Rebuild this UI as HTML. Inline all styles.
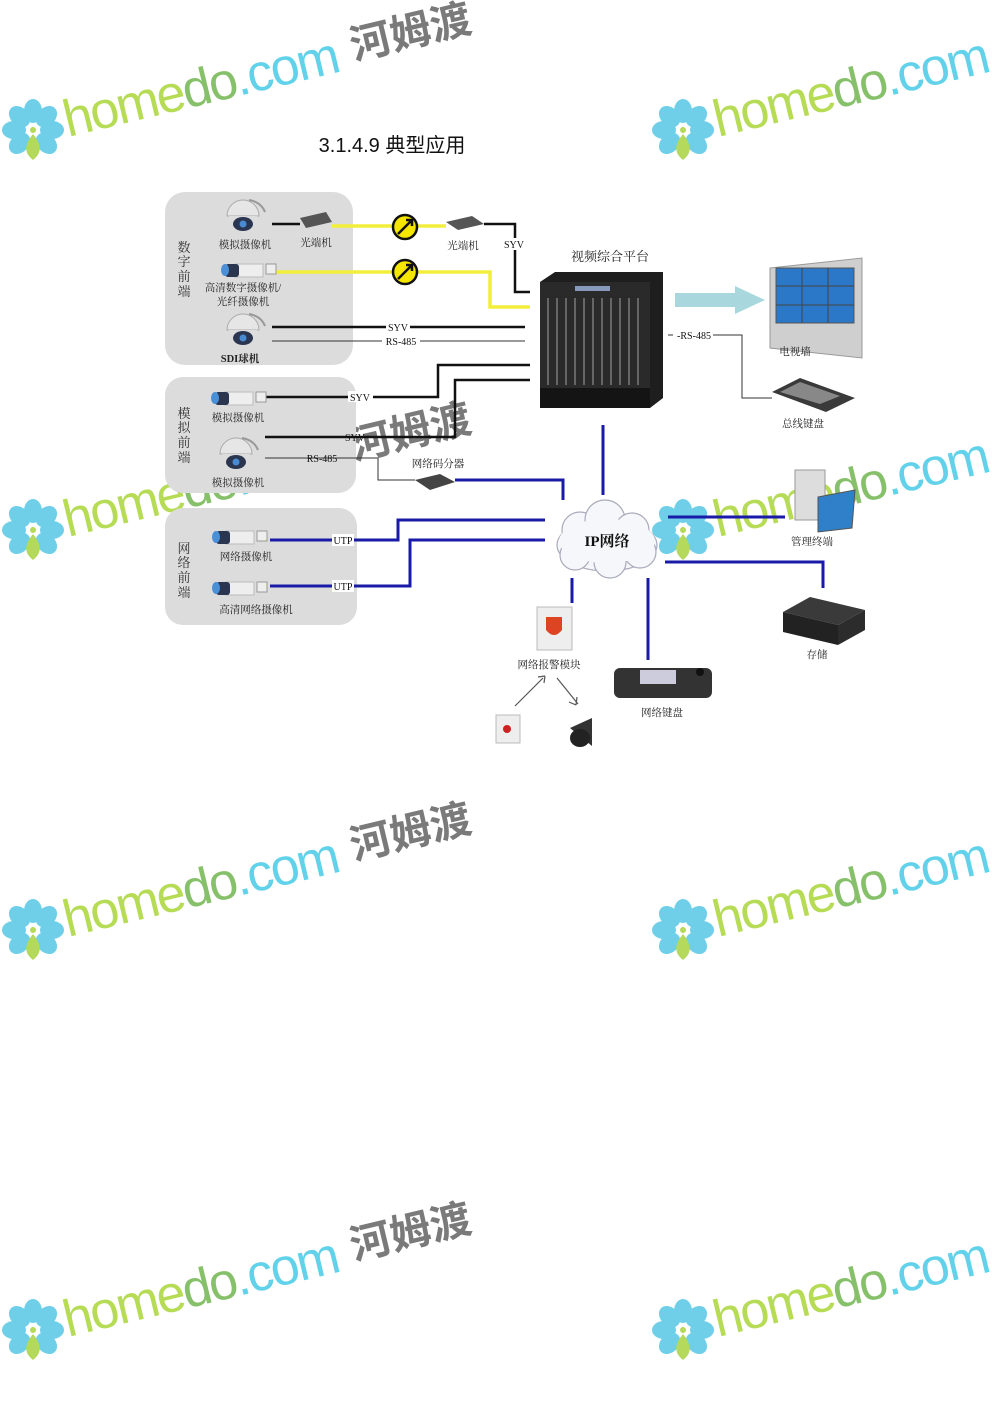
<!DOCTYPE html>
<html><head><meta charset="utf-8"><style>
html,body{margin:0;padding:0;background:#fff;}
body{width:992px;height:1403px;overflow:hidden;position:relative;}
svg{position:absolute;left:0;top:0;}
</style></head><body>
<svg width="992" height="1403" viewBox="0 0 992 1403" xmlns="http://www.w3.org/2000/svg">
<defs>
<g id="flower">
  <g fill="#6fcfe8">
    <ellipse cx="0" cy="-19" rx="9" ry="12"/>
    <ellipse cx="0" cy="-19" rx="9" ry="12" transform="rotate(45)"/>
    <ellipse cx="0" cy="-19" rx="9" ry="12" transform="rotate(90)"/>
    <ellipse cx="0" cy="-19" rx="9" ry="12" transform="rotate(135)"/>
    <ellipse cx="0" cy="-19" rx="9" ry="12" transform="rotate(-45)"/>
    <ellipse cx="0" cy="-19" rx="9" ry="12" transform="rotate(-90)"/>
    <ellipse cx="0" cy="-19" rx="9" ry="12" transform="rotate(-135)"/>
  </g>
  <path d="M0 4 C-8 14 -10 22 0 30 C10 22 8 14 0 4Z" fill="#b5d95a"/>
  <circle cx="0" cy="0" r="3" fill="#b5d95a"/>
</g>
<g id="wm">
  <use href="#flower" x="33" y="130"/>
  <g transform="translate(68,137) rotate(-13.5)">
    <text x="0" y="0" font-family="Liberation Sans, sans-serif" font-size="52" letter-spacing="-2"><tspan fill="#b6db54">home</tspan><tspan fill="#86c06a">do</tspan><tspan fill="#62d2ea">.com</tspan></text>
    <text x="296" y="-8" font-family="Liberation Sans, 'Noto Sans CJK SC', sans-serif" font-size="41" font-weight="bold" fill="#7a7a7a">河姆渡</text>
  </g>
</g>
<g id="dome">
  <path d="M-16 4 A16 16 0 0 1 16 4 Z" fill="#e6e6e6" stroke="#aaa"/>
  <rect x="-14" y="4" width="28" height="5" fill="#ddd"/>
  <ellipse cx="0" cy="12" rx="10" ry="7" fill="#2a3550"/>
  <circle cx="0" cy="12" r="3.5" fill="#4a8ad0"/>
  <path d="M6 -12 Q18 -10 22 0" stroke="#999" fill="none" stroke-width="2"/>
</g>
<g id="boxcam">
  <rect x="0" y="-6" width="28" height="13" fill="#eee" stroke="#bbb"/>
  <rect x="-10" y="-6" width="14" height="13" rx="3" fill="#2a3550"/>
  <ellipse cx="-10" cy="0" rx="4" ry="6" fill="#4a90d8"/>
  <rect x="31" y="-6" width="10" height="10" fill="#eee" stroke="#999"/>
</g>
</defs>

<!-- watermarks -->
<use href="#wm" x="0" y="0"/>
<use href="#wm" x="0" y="400"/>
<use href="#wm" x="0" y="800"/>
<use href="#wm" x="0" y="1200"/>
<use href="#wm" x="650" y="0"/>
<use href="#wm" x="650" y="400"/>
<use href="#wm" x="650" y="800"/>
<use href="#wm" x="650" y="1200"/>

<text x="392" y="152" text-anchor="middle" font-family="Liberation Sans, 'Noto Sans CJK SC', sans-serif" font-size="20" fill="#111">3.1.4.9 典型应用</text>

<!-- gray zones -->
<rect x="165" y="192" width="188" height="173" rx="20" fill="#dcdcdc"/>
<rect x="165" y="377" width="191" height="116" rx="18" fill="#dcdcdc"/>
<rect x="165" y="508" width="192" height="117" rx="18" fill="#dcdcdc"/>

<g font-family="Liberation Serif, 'Noto Serif CJK SC', serif" font-size="13" fill="#333">
<text x="184" y="252" text-anchor="middle">数</text><text x="184" y="266" text-anchor="middle">字</text><text x="184" y="281" text-anchor="middle">前</text><text x="184" y="296" text-anchor="middle">端</text>
<text x="184" y="418" text-anchor="middle">模</text><text x="184" y="432" text-anchor="middle">拟</text><text x="184" y="447" text-anchor="middle">前</text><text x="184" y="462" text-anchor="middle">端</text>
<text x="184" y="553" text-anchor="middle">网</text><text x="184" y="567" text-anchor="middle">络</text><text x="184" y="582" text-anchor="middle">前</text><text x="184" y="597" text-anchor="middle">端</text>
</g>

<g stroke="#f2ee3a" stroke-width="3.5" fill="none">
<path d="M332 226 H446"/>
<path d="M276 272 H490 V307 H530"/>
</g>
<g stroke="#111" stroke-width="2.5" fill="none">
<path d="M272 224 H300"/>
<path d="M484 224 H515 V292 H530"/>
<path d="M272 327 H525"/>
<path d="M265 397 H438 V365 H530"/>
<path d="M265 437 H455 V380 H530"/>
</g>
<g stroke="#333" stroke-width="1" fill="none">
<path d="M272 341 H525"/>
<path d="M265 458 H378 V480 H415"/>
<path d="M668 335 H742 V398 H772"/>
</g>
<g stroke="#1a1aa8" stroke-width="3" fill="none">
<path d="M455 480 H563 V500"/>
<path d="M270 540 H398 V520 H545"/>
<path d="M270 586 H410 V540 H545"/>
<path d="M603 425 V495"/>
<path d="M668 517 H785"/>
<path d="M665 562 H823 V588"/>
<path d="M572 578 V603"/>
<path d="M648 578 V660"/>
</g>

<g>
<circle cx="405" cy="227" r="12" fill="#f5e600" stroke="#111" stroke-width="2.5"/>
<path d="M398 234 L412 220 M406 220 H412 V226" stroke="#111" stroke-width="2.5" fill="none"/>
<circle cx="405" cy="272" r="12" fill="#f5e600" stroke="#111" stroke-width="2.5"/>
<path d="M398 279 L412 265 M406 265 H412 V271" stroke="#111" stroke-width="2.5" fill="none"/>
</g>

<use href="#dome" x="243" y="212"/>
<polygon points="300,218 326,212 332,222 306,228" fill="#555"/>
<polygon points="446,222 472,216 484,224 458,230" fill="#555"/>
<use href="#boxcam" x="235" y="270"/>
<use href="#dome" x="243" y="326"/>
<use href="#boxcam" x="225" y="398"/>
<use href="#dome" x="236" y="450"/>
<polygon points="415,480 440,474 455,482 430,490" fill="#444"/>
<use href="#boxcam" x="226" y="537"/>
<use href="#boxcam" x="226" y="588"/>

<!-- platform chassis -->
<polygon points="540,282 555,272 663,272 663,398 650,408 540,408" fill="#1e1e1e"/>
<rect x="540" y="282" width="110" height="126" fill="#2a2a2a"/>
<rect x="575" y="286" width="35" height="5" fill="#8899bb"/>
<g stroke="#666" stroke-width="2">
<path d="M548 298 V385 M557 298 V385 M566 298 V385 M575 298 V385 M584 298 V385 M593 298 V385 M602 298 V385 M611 298 V385 M620 298 V385 M629 298 V385 M638 298 V385"/>
</g>
<rect x="540" y="388" width="110" height="20" fill="#141414"/>

<polygon points="675,293 735,293 735,286 765,300 735,314 735,307 675,307" fill="#a8d8de"/>
<polygon points="770,268 862,258 862,358 770,348" fill="#cfcfcf" stroke="#999"/>
<rect x="776" y="268" width="78" height="55" fill="#2b78c8" stroke="#555"/>
<path d="M802 268 V323 M828 268 V323 M776 286 H854 M776 305 H854" stroke="#444"/>
<polygon points="772,392 800,378 855,398 826,412" fill="#3a3a3a"/>
<polygon points="780,392 800,382 840,396 820,404" fill="#888"/>

<g fill="#f5f7fa" stroke="#aab" stroke-width="1.2">
<ellipse cx="607" cy="545" rx="50" ry="26"/>
<circle cx="580" cy="530" r="18"/><circle cx="605" cy="520" r="20"/><circle cx="632" cy="530" r="17"/>
<circle cx="575" cy="555" r="15"/><circle cx="610" cy="562" r="16"/><circle cx="640" cy="552" r="16"/>
</g>
<ellipse cx="607" cy="541" rx="48" ry="22" fill="#f5f7fa"/>
<text x="607" y="546" text-anchor="middle" font-family="Liberation Serif, 'Noto Serif CJK SC', serif" font-size="15" font-weight="bold" fill="#111">IP网络</text>

<rect x="795" y="470" width="30" height="50" fill="#ddd" stroke="#999"/>
<polygon points="818,497 855,490 852,528 818,532" fill="#2f80c8" stroke="#555"/>
<polygon points="783,612 810,597 865,610 838,625" fill="#3a3a3a"/>
<polygon points="783,612 838,625 838,645 783,632" fill="#222"/>
<polygon points="838,625 865,610 865,630 838,645" fill="#2c2c2c"/>
<rect x="537" y="607" width="35" height="43" fill="#eee" stroke="#bbb"/>
<path d="M546 617 H562 V630 Q554 640 546 630 Z" fill="#d42"/>
<path d="M543 678 L515 706 M557 678 L578 704" stroke="#555" stroke-width="1.2"/>
<path d="M545 676 L538 677 M545 676 L544 683 M576 705 L577 697 M576 705 L569 702" stroke="#555" stroke-width="1.2"/>
<rect x="496" y="715" width="24" height="28" fill="#eee" stroke="#bbb"/>
<circle cx="507" cy="729" r="4" fill="#c22"/>
<path d="M570 728 L592 718 L592 746 Z" fill="#333"/>
<ellipse cx="580" cy="738" rx="10" ry="9" fill="#222"/>
<rect x="614" y="668" width="98" height="30" rx="6" fill="#333"/>
<rect x="640" y="670" width="36" height="14" fill="#ccd"/>
<circle cx="700" cy="672" r="4" fill="#111"/>

<g font-family="Liberation Serif, 'Noto Serif CJK SC', serif" font-size="10.5" fill="#222">
<text x="245" y="248" text-anchor="middle">模拟摄像机</text>
<text x="316" y="246" text-anchor="middle">光端机</text>
<text x="463" y="249" text-anchor="middle">光端机</text>
<text x="243" y="291" text-anchor="middle">高清数字摄像机/</text>
<text x="243" y="305" text-anchor="middle">光纤摄像机</text>
<text x="240" y="362" text-anchor="middle" font-weight="bold">SDI球机</text>
<text x="238" y="421" text-anchor="middle">模拟摄像机</text>
<text x="238" y="486" text-anchor="middle">模拟摄像机</text>
<text x="438" y="467" text-anchor="middle">网络码分器</text>
<text x="246" y="560" text-anchor="middle">网络摄像机</text>
<text x="256" y="613" text-anchor="middle">高清网络摄像机</text>
<text x="610" y="261" text-anchor="middle" font-size="13">视频综合平台</text>
<text x="795" y="355" text-anchor="middle">电视墙</text>
<text x="803" y="427" text-anchor="middle">总线键盘</text>
<text x="812" y="545" text-anchor="middle">管理终端</text>
<text x="817" y="658" text-anchor="middle">存储</text>
<text x="549" y="668" text-anchor="middle">网络报警模块</text>
<text x="662" y="716" text-anchor="middle">网络键盘</text>
</g>
<g font-family="Liberation Serif, serif" font-size="10" fill="#111">
<rect x="502" y="238" width="25" height="12" fill="#fff"/><text x="514" y="248" text-anchor="middle">SYV</text>
<rect x="386" y="321" width="24" height="11" fill="#fff"/><text x="398" y="331" text-anchor="middle">SYV</text>
<rect x="382" y="336" width="38" height="11" fill="#fff"/><text x="401" y="345" text-anchor="middle">RS-485</text>
<rect x="348" y="391" width="25" height="11" fill="#fff"/><text x="360" y="401" text-anchor="middle">SYV</text>
<text x="355" y="441" text-anchor="middle">SYV</text>
<text x="322" y="462" text-anchor="middle">RS-485</text>
<rect x="332" y="534" width="22" height="12" fill="#fff"/><text x="343" y="544" text-anchor="middle">UTP</text>
<rect x="332" y="580" width="22" height="12" fill="#fff"/><text x="343" y="590" text-anchor="middle">UTP</text>
<rect x="673" y="329" width="40" height="12" fill="#fff"/><text x="694" y="339" text-anchor="middle">-RS-485</text>
</g>
</svg>
</body></html>
